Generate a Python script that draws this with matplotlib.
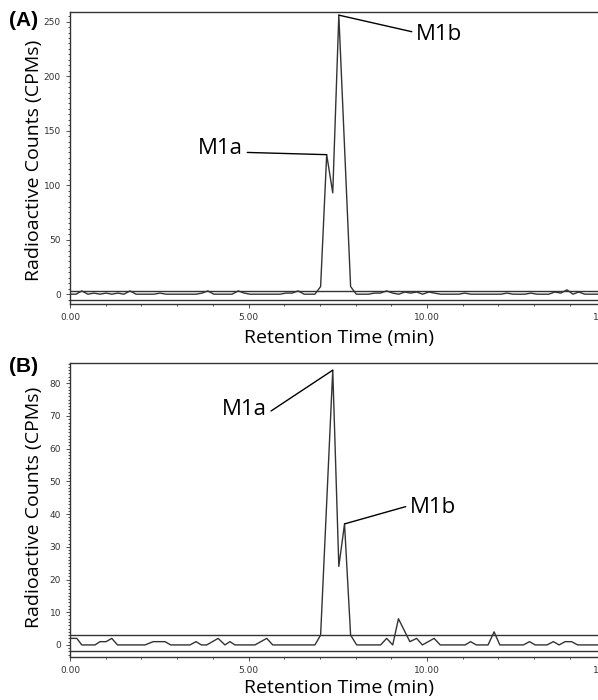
import matplotlib
matplotlib.use('Agg')
import matplotlib.pyplot as plt
from matplotlib.ticker import MultipleLocator, FormatStrFormatter

# chromatogram A (time in min, counts in CPM)
time_a = [0.00, 0.17, 0.33, 0.50, 0.67, 0.84, 1.01, 1.17, 1.34, 1.51, 1.68, 1.85,
          2.35, 2.52, 2.69, 3.53, 3.70, 3.86, 4.03, 4.54, 4.71, 4.88, 5.04, 5.88,
          6.05, 6.22, 6.39, 6.56, 6.86, 7.02, 7.19, 7.36, 7.53, 7.86, 8.02, 8.36,
          8.53, 8.69, 8.87, 9.04, 9.21, 9.38, 9.54, 9.71, 9.88, 10.05, 10.21, 10.38,
          10.89, 11.06, 11.23, 12.07, 12.24, 12.41, 12.74, 12.91, 13.08, 13.41, 13.58,
          13.75, 13.92, 14.09, 14.25, 14.42, 15.20]
cpm_a = [0, 0, 3, 0, 1, 0, 1, 0, 1, 0, 3, 0,
         0, 1, 0, 0, 1, 3, 0, 0, 3, 1, 0, 0,
         1, 1, 3, 0, 0, 7, 128, 93, 256, 7, 0, 0,
         1, 1, 3, 1, 0, 2, 1, 2, 0, 2, 1, 0,
         0, 1, 0, 0, 1, 0, 0, 1, 0, 0, 2,
         1, 4, 0, 2, 0, 0]
lines_a = [3, -5]

# chromatogram B
time_b = [0.00, 0.19, 0.33, 0.70, 0.84, 1.01, 1.17, 1.33, 2.10, 2.33, 2.66, 2.82,
          3.36, 3.53, 3.68, 3.83, 4.15, 4.34, 4.48, 4.62, 5.18, 5.51, 5.68, 6.86,
          7.02, 7.36, 7.53, 7.69, 7.86, 8.03, 8.70, 8.87, 9.04, 9.20, 9.52, 9.71,
          9.87, 10.20, 10.37, 11.07, 11.22, 11.38, 11.71, 11.88, 12.04, 12.70, 12.87,
          13.03, 13.36, 13.54, 13.70, 13.87, 14.05, 14.22, 15.20]
cpm_b = [2, 2, 0, 0, 1, 1, 2, 0, 0, 1, 1, 0,
         0, 1, 0, 0, 2, 0, 1, 0, 0, 2, 0, 0,
         3, 84, 24, 37, 3, 0, 0, 2, 0, 8, 1, 2,
         0, 2, 0, 0, 1, 0, 0, 4, 0, 0, 1,
         0, 0, 1, 0, 1, 1, 0, 0]
lines_b = [3, -2]

W, H = 598, 700
fig = plt.figure(figsize=(W / 100, H / 100), dpi=100)
lab_font = 'Open Sans'
gray = '#333333'


def panel(bottom_px, top_px, t, c, hl, ylim, major, minor, peaks):
    ax = fig.add_axes([70 / W, 1 - bottom_px / H, 15.3 * 35.7 / W, (bottom_px - top_px) / H])
    ax.plot(t, c, color=gray, lw=1.0)
    for y in hl:
        ax.axhline(y, color=gray, lw=1.0)
    ax.set_xlim(0, 15.3)
    ax.set_ylim(*ylim)
    ax.xaxis.set_major_locator(MultipleLocator(5))
    ax.xaxis.set_minor_locator(MultipleLocator(1))
    ax.xaxis.set_major_formatter(FormatStrFormatter('%.2f'))
    ax.yaxis.set_major_locator(MultipleLocator(major))
    ax.yaxis.set_minor_locator(MultipleLocator(minor))
    ax.tick_params(which='both', labelsize=6.5, colors=gray, width=0.6)
    ax.tick_params(which='major', length=3)
    ax.tick_params(which='minor', length=1.5)
    for s in ax.spines.values():
        s.set_color(gray)
        s.set_linewidth(1.0)
    for name, idx, pos, ha in peaks:
        rel = (1, 0.3) if ha == 'right' else (0, 0.6)
        ax.annotate(name, xy=(t[idx], c[idx]), xytext=pos, ha=ha, va='center',
                    fontsize=16, family=lab_font,
                    arrowprops=dict(arrowstyle='-', color='black', lw=1.0,
                                    shrinkA=1, shrinkB=0, relpos=rel))
    return ax


panel(304, 12.3, time_a, cpm_a, lines_a, (-9, 258.6), 50, 5,
      [('M1a', 30, (4.85, 134), 'right'), ('M1b', 32, (9.69, 238), 'left')])
panel(656.7, 363.3, time_b, cpm_b, lines_b, (-3.6, 86.1), 10, 1,
      [('M1a', 25, (5.52, 72), 'right'), ('M1b', 27, (9.52, 42), 'left')])

for yc in (160, 507):
    fig.text(34 / W, 1 - yc / H, 'Radioactive Counts (CPMs)', rotation=90,
             ha='center', va='center', fontsize=14, family=lab_font)
for yc in (338, 688):
    fig.text(339 / W, 1 - yc / H, 'Retention Time (min)', ha='center', va='center',
             fontsize=14, family=lab_font)

fig.text(9 / W, 1 - 20 / H, '(A)', fontsize=15, fontweight='bold', va='center',
         family='Liberation Sans')
fig.text(9 / W, 1 - 366 / H, '(B)', fontsize=15, fontweight='bold', va='center',
         family='Liberation Sans')

fig.savefig('out.png', dpi=100)
